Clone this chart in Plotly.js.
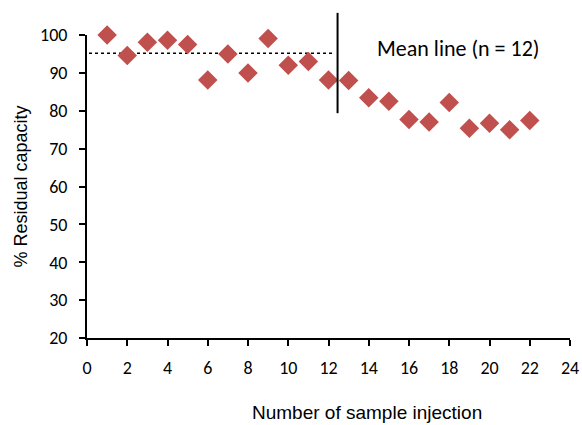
<!DOCTYPE html>
<html><head><meta charset="utf-8">
<script src="https://cdn.plot.ly/plotly-3.0.1.min.js"></script>
<style>html,body{margin:0;padding:0;background:#fff}</style>
</head><body><div id="chart" style="width:582px;height:425px"></div>
<script>
const injections = [1,2,3,4,5,6,7,8,9,10,11,12,13,14,15,16,17,18,19,20,21,22];
const residual = [100,94.6,98.1,98.6,97.5,88.1,95.0,90.0,99.1,92.0,93.0,88.1,88.0,83.4,82.5,77.7,77.0,82.2,75.4,76.7,75.0,77.4];
const meanX = [0.1, 12.2];
const meanY = [95.2, 95.2];
const splitX = 12.45;
const xTicks = [0,2,4,6,8,10,12,14,16,18,20,22,24];
const yTicks = [20,30,40,50,60,70,80,90,100];
const labelText = "Mean line (n = 12)";
const xTitle = "Number of sample injection";
const yTitle = "% Residual capacity";

const font = "Carlito, 'Open Sans', 'Liberation Sans', sans-serif";

const traces = [
  {x: meanX, y: meanY, mode: 'lines', line: {color: '#000', width: 1.5, dash: 'dot'}, hoverinfo: 'skip'},
  {x: injections, y: residual, mode: 'markers', cliponaxis: false, marker: {symbol: 'diamond', size: 15, color: '#C0504D'}}
];

const layout = {
  width: 582, height: 425,
  margin: {l: 87, r: 12, t: 35, b: 87},
  showlegend: false,
  paper_bgcolor: '#fff', plot_bgcolor: '#fff',
  font: {family: font, size: 18, color: '#000'},
  xaxis: {
    range: [0, 24], tickvals: xTicks, ticktext: xTicks.map(String),
    showgrid: false, zeroline: false, showline: true, linecolor: '#000', linewidth: 2,
    ticks: 'outside', ticklen: 6, tickwidth: 2, tickcolor: '#000',
    tickfont: {size: 18}, ticklabelstandoff: 6
  },
  yaxis: {
    range: [20, 100], tickvals: yTicks, ticktext: yTicks.map(String),
    showgrid: false, zeroline: false, showline: true, linecolor: '#000', linewidth: 2,
    ticks: 'outside', ticklen: 6, tickwidth: 2, tickcolor: '#000',
    tickfont: {size: 18}, ticklabelstandoff: 8,
    title: {text: yTitle, font: {family: "'Liberation Sans', sans-serif", size: 18}, standoff: 8}
  },
  shapes: [
    {type: 'line', xref: 'x', yref: 'paper', x0: splitX, x1: splitX, y0: 0.742, y1: 1.073, line: {color: '#000', width: 2}}
  ],
  annotations: [
    {xref: 'x', yref: 'paper', x: 18.45, y: 0.955, text: labelText, showarrow: false, font: {family: font, size: 22}, xanchor: 'center', yanchor: 'middle'},
    {xref: 'paper', yref: 'paper', x: 0.58, y: -0.245, text: xTitle, showarrow: false, font: {family: "'Liberation Sans Narrow', 'Liberation Sans', sans-serif", size: 19}, xanchor: 'center', yanchor: 'middle'}
  ]
};

Plotly.newPlot('chart', traces, layout, {displayModeBar: false, staticPlot: true});
</script></body></html>
